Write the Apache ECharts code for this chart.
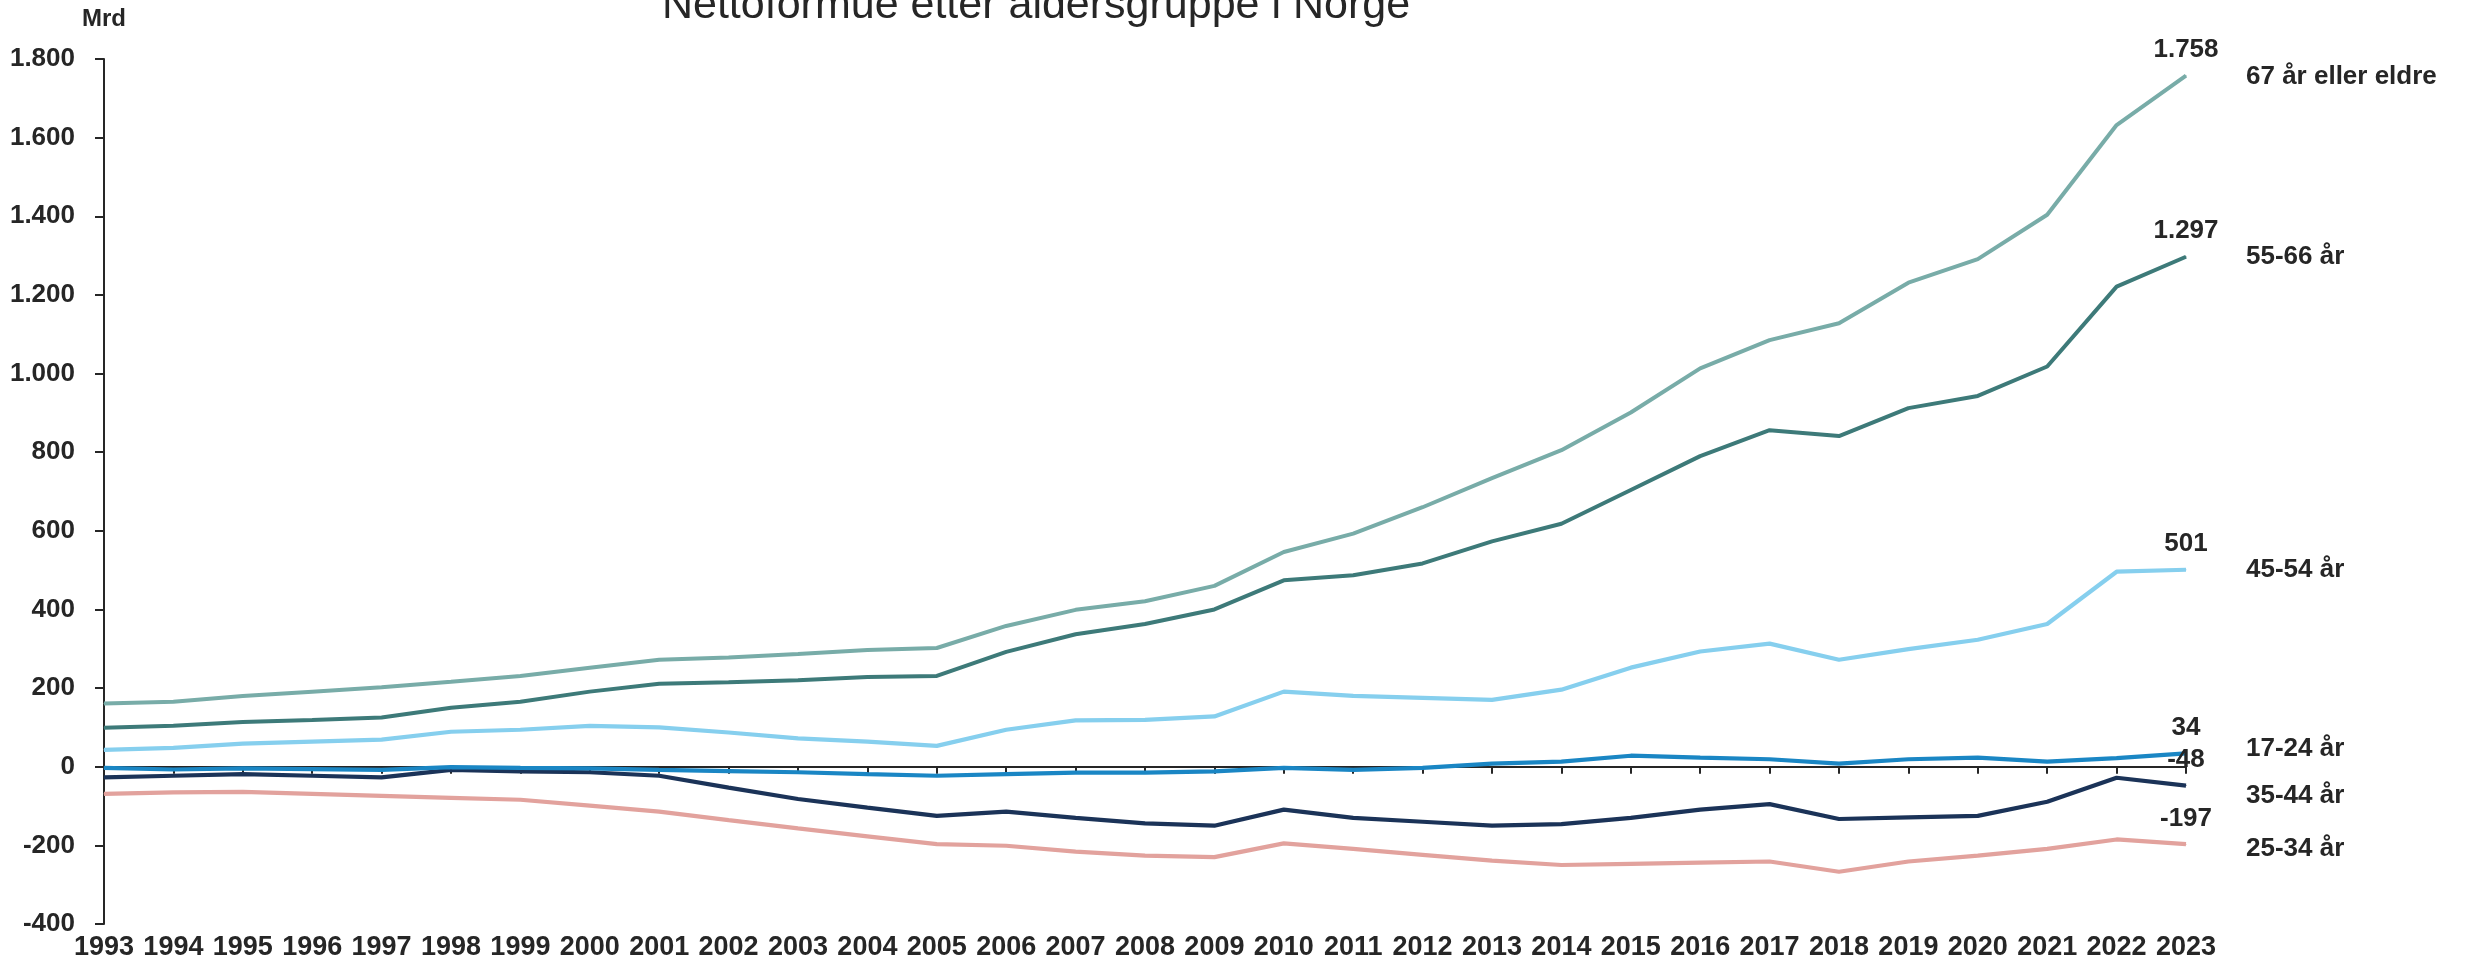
<!DOCTYPE html>
<html>
<head>
<meta charset="utf-8">
<title>Nettoformue etter aldersgruppe i Norge</title>
<script src="https://cdn.jsdelivr.net/npm/echarts@6/dist/echarts.min.js"></script>
<style>
  html, body { margin: 0; padding: 0; background: #ffffff; }
  #formue { width: 2468px; height: 962px; }
</style>
</head>
<body>
<div id="formue"></div>
<script>
// år på x-aksen
var years = ['1993', '1994', '1995', '1996', '1997', '1998', '1999', '2000', '2001', '2002',
  '2003', '2004', '2005', '2006', '2007', '2008', '2009', '2010', '2011', '2012', '2013',
  '2014', '2015', '2016', '2017', '2018', '2019', '2020', '2021', '2022', '2023']

// nettoformue, mrd kroner
var ar67 = [161, 165, 180, 191, 202, 216, 231, 252, 272, 278, 287, 297, 302, 358, 399, 421,
  460, 546, 593, 660, 734, 805, 901, 1013, 1085, 1128, 1231, 1291, 1404, 1632, 1758]
var ar55 = [99, 104, 114, 119, 125, 150, 165, 191, 211, 215, 220, 228, 231, 292, 337, 363,
  400, 474, 487, 517, 573, 618, 704, 790, 856, 841, 912, 943, 1018, 1221, 1297]
var ar45 = [43, 48, 59, 64, 69, 89, 94, 104, 100, 87, 72, 64, 53, 94, 118, 119,
  128, 191, 180, 175, 170, 196, 252, 293, 313, 272, 299, 323, 363, 496, 501]
var ar17 = [-3, -7, -4, -6, -8, -1, -3, -4, -8, -11, -14, -19, -23, -19, -15, -15,
  -12, -3, -8, -3, 8, 13, 28, 23, 19, 8, 19, 23, 13, 22, 34]
var ar35 = [-27, -23, -19, -23, -27, -8, -12, -14, -23, -53, -82, -104, -125, -114, -130, -144,
  -150, -109, -130, -140, -150, -146, -130, -109, -95, -133, -129, -125, -89, -28, -48]
var ar25 = [-69, -65, -64, -69, -74, -79, -84, -99, -114, -136, -157, -177, -197, -201, -216, -226,
  -230, -195, -209, -224, -239, -250, -247, -244, -241, -267, -241, -226, -209, -185, -197]

// y-aksen
var yMin = -400
var yMax = 1800
var yStep = 200

var tekst = '#262626'
var font = '"Liberation Sans", Arial, sans-serif'

function tusen (v) {
  var s = String(Math.abs(v)).replace(/\B(?=(\d{3})+(?!\d))/g, '.')
  return (v < 0 ? '-' : '') + s
}

function linje (navn, verdier, farge, bredde, dy) {
  return {
    name: navn,
    type: 'line',
    xAxisIndex: 0,
    // bare siste punkt får verdietikett
    data: verdier.map(function (v, i) {
      return i === verdier.length - 1 ? { value: v, label: { show: true } } : v
    }),
    symbol: 'circle',
    symbolSize: 1,
    showSymbol: true,
    showAllSymbol: true,
    lineStyle: { color: farge, width: bredde },
    itemStyle: { color: farge },
    label: {
      show: false,
      position: 'top',
      distance: 12,
      formatter: function (p) { return tusen(p.value) },
      color: tekst,
      fontFamily: font,
      fontWeight: 'bold',
      fontSize: 26
    },
    endLabel: {
      show: true,
      formatter: function (p) { return p.seriesName },
      distance: 60,
      offset: [0, dy],
      color: tekst,
      fontFamily: font,
      fontWeight: 'bold',
      fontSize: 26
    },
    emphasis: { disabled: true }
  }
}

var chart = echarts.init(document.getElementById('formue'))

chart.setOption({
  animation: false,
  backgroundColor: '#ffffff',
  graphic: [
    {
      type: 'text',
      x: 1036,
      y: 6,
      style: {
        text: 'Nettoformue etter aldersgruppe i Norge',
        font: '43px "Liberation Sans", Arial, sans-serif',
        fill: tekst,
        align: 'center',
        verticalAlign: 'middle'
      }
    }
  ],
  grid: {
    left: 104,
    right: 282,
    top: 59,
    bottom: 38
  },
  xAxis: [
    { // årstallene nederst
      type: 'category',
      data: years,
      boundaryGap: false,
      position: 'bottom',
      axisLine: { show: false, onZero: false },
      axisTick: { show: false },
      axisLabel: {
        margin: 10,
        color: tekst,
        fontFamily: font,
        fontWeight: 'bold',
        fontSize: 27,
        interval: 0
      },
      splitLine: { show: false }
    },
    { // nullinjen med streker
      type: 'category',
      data: years,
      boundaryGap: false,
      position: 'bottom',
      axisLine: { show: true, onZero: true, lineStyle: { color: tekst, width: 2 } },
      axisTick: { show: true, length: 7, lineStyle: { color: tekst, width: 2 } },
      axisLabel: { show: false },
      splitLine: { show: false }
    }
  ],
  yAxis: {
    type: 'value',
    min: yMin,
    max: yMax,
    interval: yStep,
    name: 'Mrd',
    nameLocation: 'end',
    nameGap: 28,
    nameTextStyle: {
      color: tekst,
      fontFamily: font,
      fontWeight: 'bold',
      fontSize: 24
    },
    axisLine: { show: true, lineStyle: { color: tekst, width: 2 } },
    axisTick: { show: true, length: 9, lineStyle: { color: tekst, width: 2 } },
    axisLabel: {
      margin: 29,
      color: tekst,
      fontFamily: font,
      fontWeight: 'bold',
      fontSize: 26,
      formatter: tusen
    },
    splitLine: { show: false }
  },
  series: [
    linje('67 år eller eldre', ar67, '#78aca8', 4, 1),
    linje('55-66 år', ar55, '#3d7a79', 4, 0),
    linje('45-54 år', ar45, '#86cfee', 4.2, 0),
    linje('25-34 år', ar25, '#e2a29d', 4.2, 5),
    linje('35-44 år', ar35, '#1b3358', 4.2, 10),
    linje('17-24 år', ar17, '#1a86c4', 4.2, -5)
  ]
})
</script>
</body>
</html>
